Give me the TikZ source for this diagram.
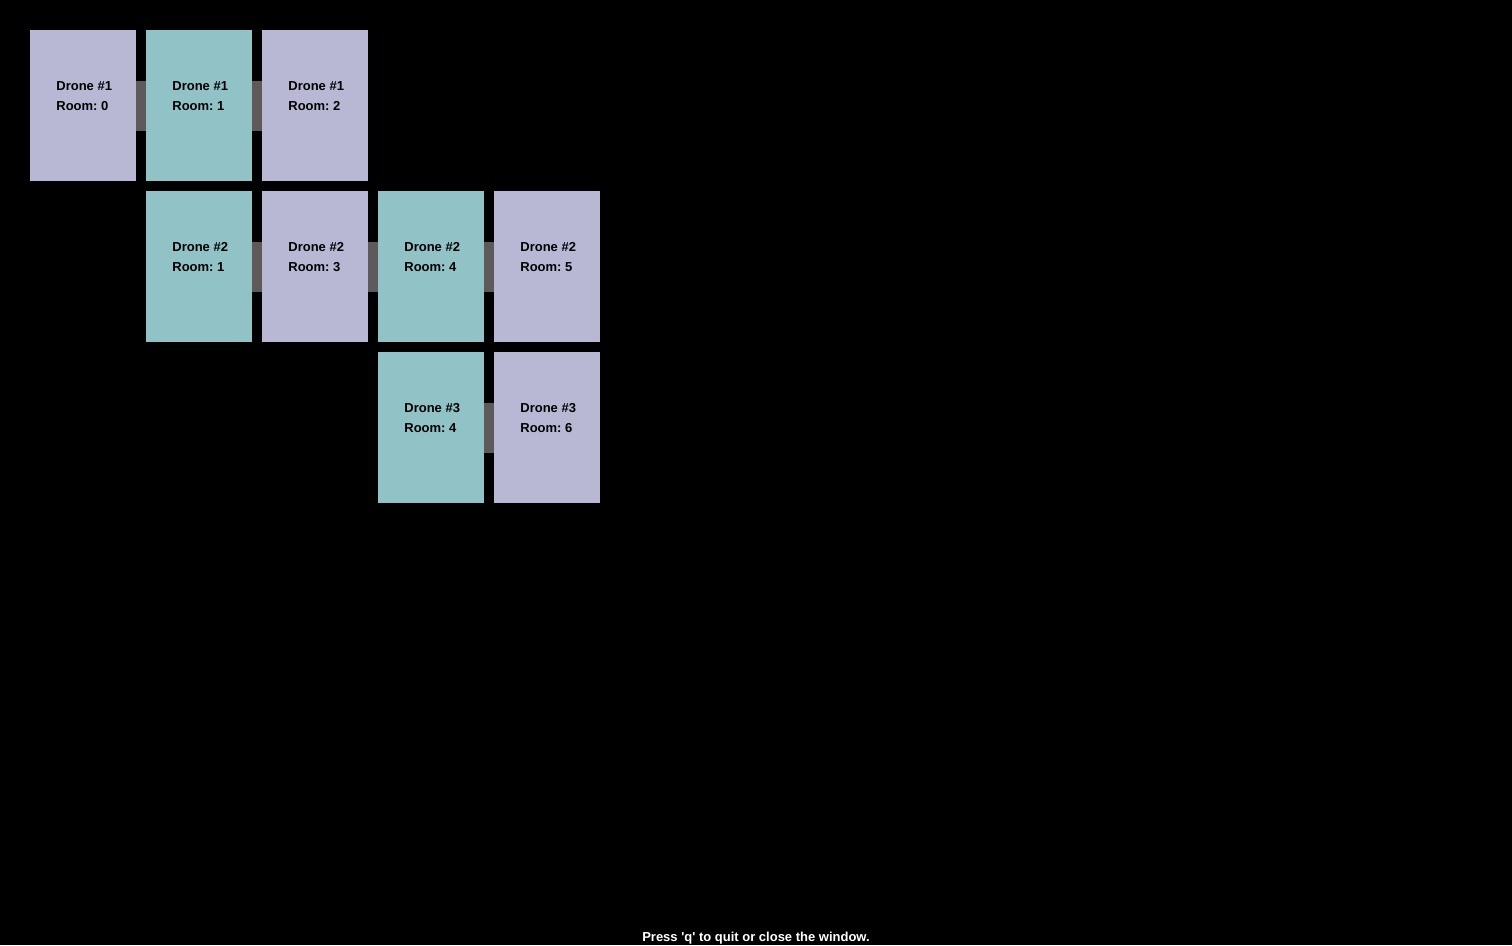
\documentclass[tikz,border=0pt]{standalone}
\usepackage{fontspec}
\newfontfamily\uifont{Liberation Sans}[BoldFont={Liberation Sans Bold}]
\frenchspacing
\definecolor{roomlav}{RGB}{184,184,212}
\definecolor{roomteal}{RGB}{144,194,198}
\definecolor{linkgrey}{RGB}{94,90,92}
\begin{document}
\begin{tikzpicture}[x=1pt,y=-1pt,
  room/.style={rectangle, minimum width=106pt, minimum height=151pt, inner sep=0pt, anchor=north west},
  lav/.style={room, fill=roomlav},
  teal/.style={room, fill=roomteal},
  label/.style={font=\uifont\bfseries\fontsize{13}{20}\selectfont, align=left, inner sep=0pt, text=black},
  link/.style={draw=linkgrey, line width=50pt}
]
\fill[black] (0,0) rectangle (1512,945);
\useasboundingbox (0,0) rectangle (1512,945);

% drone #1
\node[lav]  (d1r0) at (30,30)  {};
\node[teal] (d1r1) at (146,30) {};
\node[lav]  (d1r2) at (262,30) {};
% drone #2
\node[teal] (d2r1) at (146,191) {};
\node[lav]  (d2r3) at (262,191) {};
\node[teal] (d2r4) at (378,191) {};
\node[lav]  (d2r5) at (494,191) {};
% drone #3
\node[teal] (d3r4) at (378,352) {};
\node[lav]  (d3r6) at (494,352) {};

% links between consecutive rooms
\begin{scope}[shift={(0,0.5)}]
\draw[link] (d1r0.east) -- (d1r1.west);
\draw[link] (d1r1.east) -- (d1r2.west);
\draw[link] (d2r1.east) -- (d2r3.west);
\draw[link] (d2r3.east) -- (d2r4.west);
\draw[link] (d2r4.east) -- (d2r5.west);
\draw[link] (d3r4.east) -- (d3r6.west);
\end{scope}

% room captions
\foreach \n/\d/\r in {d1r0/1/0, d1r1/1/1, d1r2/1/2, d2r1/2/1, d2r3/2/3, d2r4/2/4, d2r5/2/5, d3r4/3/4, d3r6/3/6}
  \node[label] (t\n) at ([xshift=1pt,yshift=9.5pt]\n.center) {Drone \#\d\\Room: \r};

\node[label, text=white] (hint) at (756,938) {Press 'q' to quit or close the window.};
\end{tikzpicture}
\end{document}
